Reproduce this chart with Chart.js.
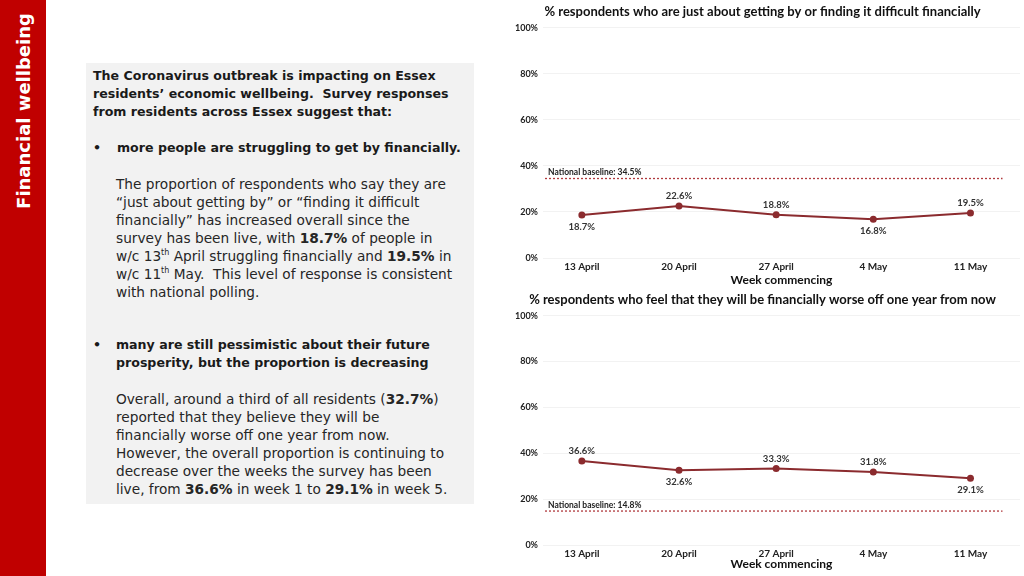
<!DOCTYPE html>
<html>
<head>
<meta charset="utf-8">
<script src="https://cdn.jsdelivr.net/npm/chart.js@4"></script>
<style>
  body { margin: 0; width: 1024px; height: 576px; background: #fff; position: relative; overflow: hidden; font-family: "DejaVu Sans", sans-serif; }
  #side { position: absolute; left: 0; top: 0; width: 46px; height: 576px; background: #c00000; }
  #side span { position: absolute; left: 23px; top: 111px; transform: translate(-50%, -50%) rotate(-90deg); white-space: nowrap; color: #fff; font-size: 18px; font-weight: bold; }
  #box { position: absolute; left: 86px; top: 63px; width: 388px; height: 441px; background: #f2f2f2; }
  .t { position: absolute; font-size: 13.7px; line-height: 18px; color: #262626; white-space: nowrap; }
  .b { font-weight: bold; font-size: 12.6px; color: #1a1a1a; }
  sup { font-size: 8px; line-height: 0; }
  .c { position: absolute; left: 490px; width: 534px; }
</style>
</head>
<body>
<div id="side"><span>Financial wellbeing</span></div>
<div id="box"></div>
<div class="t b" style="left:93px;top:67px">The Coronavirus outbreak is impacting on Essex<br>residents’ economic wellbeing.&nbsp; Survey responses<br>from residents across Essex suggest that:</div>
<div class="t b" style="left:93px;top:139px">•</div>
<div class="t b" style="left:117px;top:139px">more people are struggling to get by financially.</div>
<div class="t" style="left:116px;top:175px">The proportion of respondents who say they are<br>“just about getting by” or “finding it difficult<br>financially” has increased overall since the<br>survey has been live, with <b>18.7%</b> of people in<br>w/c 13<sup>th</sup> April struggling financially and <b>19.5%</b> in<br>w/c 11<sup>th</sup> May.&nbsp; This level of response is consistent<br>with national polling.</div>
<div class="t b" style="left:93px;top:336px">•</div>
<div class="t b" style="left:116px;top:336px">many are still pessimistic about their future<br>prosperity, but the proportion is decreasing</div>
<div class="t" style="left:116px;top:390px">Overall, around a third of all residents (<b>32.7%</b>)<br>reported that they believe they will be<br>financially worse off one year from now.<br>However, the overall proportion is continuing to<br>decrease over the weeks the survey has been<br>live, from <b>36.6%</b> in week 1 to <b>29.1%</b> in week 5.</div>

<div class="c" style="top:0;height:290px"><canvas id="chart1"></canvas></div>
<div class="c" style="top:290px;height:286px"><canvas id="chart2"></canvas></div>

<script>
var weeks = ['13 April', '20 April', '27 April', '4 May', '11 May'];
var struggling = [18.7, 22.6, 18.8, 16.8, 19.5];
var worseOff = [36.6, 32.6, 33.3, 31.8, 29.1];
var baseline1 = 34.5;
var baseline2 = 14.8;
// label above (1) or below (-1) the point
var labelPos1 = [-1, 1, 1, -1, 1];
var labelPos2 = [1, -1, 1, 1, -1];
var yTicks = [0, 20, 40, 60, 80, 100];

var lineColor = '#8b2b2e';

// draws the value labels and the national baseline line
var extras = {
    id: 'extras',
    afterDatasetsDraw: function(chart, args, opts) {
        var ctx = chart.ctx;
        var area = chart.chartArea;
        var y = chart.scales.y.getPixelForValue(opts.baseline);
        var xEnd = chart.scales.x.getPixelForValue(4.33);
        ctx.save();
        ctx.strokeStyle = '#b03a3e';
        ctx.lineWidth = 1.3;
        ctx.setLineDash([2, 2]);
        ctx.beginPath();
        ctx.moveTo(area.left + 2, y);
        ctx.lineTo(xEnd, y);
        ctx.stroke();
        ctx.setLineDash([]);
        ctx.fillStyle = '#222';
        ctx.font = 'bold 8.5px Lato';
        ctx.textAlign = 'left';
        ctx.textBaseline = 'bottom';
        ctx.fillText('National baseline: ' + opts.baseline + '%', area.left + 5, y - 2);

        var meta = chart.getDatasetMeta(0);
        ctx.font = 'bold 9.5px Lato';
        ctx.fillStyle = '#333';
        ctx.textAlign = 'center';
        meta.data.forEach(function(pt, i) {
            var v = chart.data.datasets[0].data[i].y;
            var up = opts.pos[i] > 0;
            ctx.textBaseline = up ? 'bottom' : 'top';
            ctx.fillText(v.toFixed(1) + '%', pt.x, up ? pt.y - 5 : pt.y + 7);
        });
        ctx.restore();
    }
};

function makeChart(id, title, values, baseline, pos, xHeight, xTitlePad, titleTop) {
    var pts = values.map(function(v, i) { return {x: i, y: v}; });
    return new Chart(document.getElementById(id).getContext('2d'), {
        type: 'line',
        data: {
            datasets: [{
                data: pts,
                borderColor: lineColor,
                backgroundColor: lineColor,
                borderWidth: 2,
                pointRadius: 3.5,
                pointBackgroundColor: lineColor,
                pointBorderWidth: 0,
                tension: 0
            }]
        },
        options: {
            responsive: true,
            maintainAspectRatio: false,
            animation: false,
            layout: { padding: { left: 14, right: 3, top: 0, bottom: 0 } },
            plugins: {
                legend: { display: false },
                tooltip: { enabled: false },
                title: {
                    display: true,
                    text: title,
                    color: '#111',
                    font: { family: 'Lato', size: 13, weight: 'bold' },
                    padding: { top: titleTop, bottom: 8 }
                },
                extras: { baseline: baseline, pos: pos }
            },
            scales: {
                x: {
                    type: 'linear',
                    min: -0.4,
                    max: 4.51,
                    afterBuildTicks: function(s) { s.ticks = weeks.map(function(w, i) { return {value: i}; }); },
                    afterFit: function(s) { s.height = xHeight; },
                    grid: { display: false, drawTicks: false },
                    border: { display: false },
                    ticks: {
                        padding: 3,
                        color: '#222',
                        font: { family: 'Lato', size: 10, weight: 'bold' },
                        callback: function(v) { return weeks[v]; }
                    },
                    title: {
                        display: true,
                        text: 'Week commencing',
                        color: '#111',
                        padding: { top: 0, bottom: xTitlePad },
                        font: { family: 'Lato', size: 12, weight: 'bold' }
                    }
                },
                y: {
                    min: 0,
                    max: 100,
                    afterBuildTicks: function(s) { s.ticks = yTicks.map(function(v) { return {value: v}; }); },
                    afterFit: function(s) { s.width = 39; },
                    grid: { color: '#f2f2f2', drawTicks: false },
                    border: { display: false },
                    ticks: {
                        padding: 5,
                        color: '#222',
                        font: { family: 'Lato', size: 9, weight: 'bold' },
                        callback: function(v) { return v + '%'; }
                    }
                }
            }
        },
        plugins: [extras]
    });
}

makeChart('chart1', '% respondents who are just about getting by or finding it difficult financially', struggling, baseline1, labelPos1, 32, 3, 4);
makeChart('chart2', '% respondents who feel that they will be financially worse off one year from now', worseOff, baseline2, labelPos2, 31, 5, 2);
</script>
</body>
</html>
